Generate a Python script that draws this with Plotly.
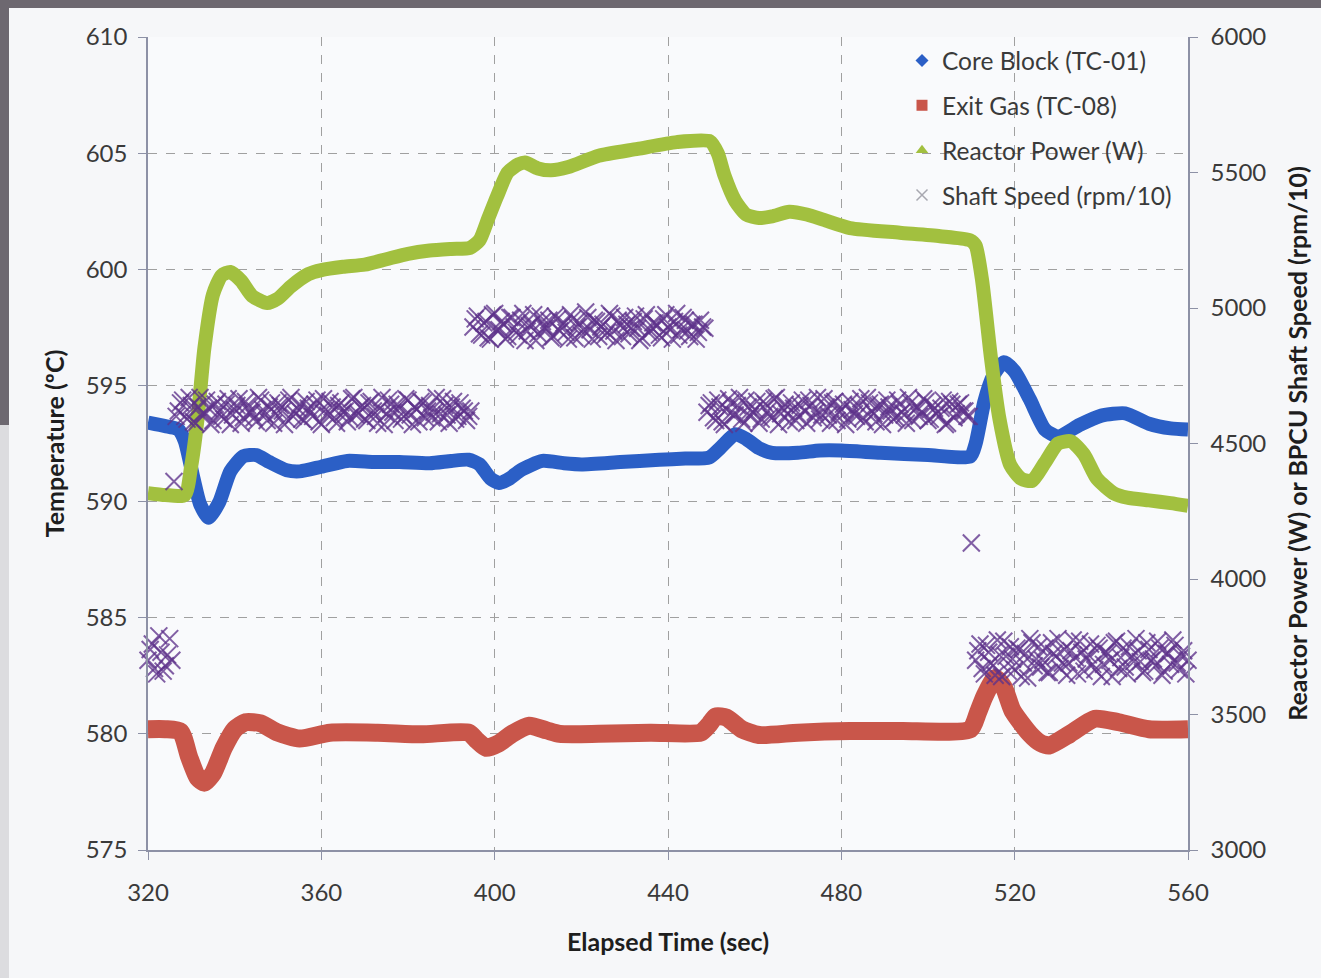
import numpy as np
import plotly.graph_objects as go

# ---- Core block temperature, TC-01 (degC) ----
core_t = [320, 324, 327, 328.5, 330.5, 332, 334, 336.5, 339, 342, 345, 348, 352, 355,
          360, 366, 372, 378, 385, 390, 394, 396.5, 399, 401, 403.5, 406, 411, 416,
          420, 429, 438, 444, 449.5, 452, 455.5, 458, 461, 464, 470, 475, 480, 489,
          500, 509.8, 511, 513, 515, 517.5, 520, 523.5, 527, 530, 535, 540, 545.5,
          551, 556, 560]
core_temp = [593.4, 593.25, 593.1, 592.6, 591.0, 589.9, 589.3, 590.0, 591.3, 591.95,
             592.0, 591.7, 591.35, 591.3, 591.5, 591.75, 591.7, 591.7, 591.65, 591.75,
             591.8, 591.6, 591.0, 590.8, 591.0, 591.35, 591.75, 591.65, 591.6, 591.7,
             591.8, 591.85, 591.9, 592.3, 592.9, 592.7, 592.3, 592.1, 592.1, 592.2,
             592.2, 592.1, 592.0, 591.95, 592.5, 594.3, 595.4, 596.0, 595.6, 594.4,
             593.1, 592.8, 593.3, 593.7, 593.8, 593.35, 593.15, 593.1]

# ---- Exit gas temperature, TC-08 (degC) ----
gas_t = [320, 324, 327.5, 329.5, 331.5, 333, 335, 337.5, 340, 342.5, 346, 350, 355,
         362, 373, 383, 394, 396, 398, 401, 404, 408, 412, 415, 424, 436, 447.5,
         449.5, 451, 453.5, 457, 461, 470, 482, 494, 509.8, 511.5, 513, 515.5,
         517.5, 519.5, 523.5, 526, 528, 532.8, 538.5, 544, 551, 560]
gas_temp = [580.2, 580.2, 580.1, 579.0, 578.1, 577.9, 578.3, 579.4, 580.2, 580.5,
            580.45, 580.05, 579.8, 580.05, 580.05, 579.98, 580.05, 579.7, 579.4,
            579.6, 580.0, 580.35, 580.15, 580.0, 580.0, 580.05, 580.05, 580.4,
            580.75, 580.7, 580.2, 579.95, 580.05, 580.12, 580.12, 580.2, 580.9,
            581.6, 582.4, 582.0, 581.0, 580.0, 579.6, 579.5, 580.0, 580.65, 580.5,
            580.2, 580.2]

# ---- Reactor power (W) ----
power_t = [320, 324, 328.5, 330, 331.5, 333, 335, 337, 339, 341.5, 344, 347.5, 350,
           353, 357, 360, 365, 370, 375, 380, 385, 390, 394.3, 396.5, 398.5, 400.5,
           403, 405.5, 407, 410, 413, 417, 424, 433, 442, 449.7, 451.5, 453, 455.5,
           458, 461, 464, 468, 472, 476, 482, 493.5, 502.8, 509.7, 511, 512.5,
           514.5, 516.5, 519, 521.5, 524, 527, 530, 533, 536, 539, 543, 546, 551,
           556, 560]
power_w = [4317, 4310, 4310, 4420, 4600, 4850, 5050, 5120, 5133, 5100, 5045, 5018,
           5035, 5080, 5125, 5140, 5152, 5160, 5180, 5200, 5212, 5218, 5222, 5250,
           5330, 5410, 5500, 5530, 5537, 5515, 5508, 5520, 5562, 5587, 5612, 5615,
           5570, 5490, 5395, 5345, 5332, 5338, 5355, 5345, 5325, 5295, 5278, 5265,
           5250, 5230, 5100, 4820, 4590, 4420, 4370, 4362, 4430, 4500, 4508, 4460,
           4370, 4315, 4300, 4290, 4280, 4270]

# ---- BPCU shaft speed (rpm/10), logged every 0.5 s ----
# each block: first reading time, readings on the whole second, readings on the half second
speed_start_a = 320
speed_a = [3700, 3760, 3650, 3730, 3680, 3780]
speed_a_half = [3740, 3670, 3790, 3660, 3720, 3700]

speed_start_b = 326
speed_b = [4360,
           4620, 4660, 4590, 4640, 4575, 4670, 4610, 4630, 4585, 4655, 4600, 4645, 4570,
           4625, 4665, 4595, 4640, 4615, 4580, 4660, 4605, 4635, 4575, 4650, 4620, 4590,
           4670, 4610, 4645, 4585, 4630, 4600, 4660, 4570, 4625, 4655, 4595, 4640, 4615,
           4580, 4665, 4605, 4635, 4590, 4650, 4620, 4575, 4670, 4610, 4645, 4585, 4630,
           4600, 4660, 4570, 4625, 4655, 4595, 4640, 4615, 4580, 4665, 4605, 4635, 4590,
           4650, 4620, 4600]
speed_b_half = [4600,
                4650, 4600, 4670, 4580, 4635, 4610, 4660, 4570, 4645, 4620, 4590, 4665,
                4605, 4640, 4575, 4655, 4615, 4595, 4670, 4625, 4585, 4650, 4610, 4640,
                4570, 4660, 4600, 4630, 4590, 4655, 4615, 4645, 4580, 4665, 4605, 4635,
                4575, 4650, 4620, 4595, 4670, 4610, 4640, 4585, 4655, 4600, 4630, 4570,
                4660, 4615, 4645, 4590, 4665, 4605, 4635, 4580, 4650, 4620, 4595, 4670,
                4610, 4640, 4575, 4655, 4600, 4630, 4585, 4620]

speed_start_c = 395
speed_c = [4930, 4970, 4900, 4950, 4885, 4980, 4920, 4940, 4895, 4965, 4910, 4955, 4880,
           4935, 4975, 4905, 4950, 4925, 4890, 4970, 4915, 4945, 4885, 4960, 4930, 4900,
           4985, 4920, 4955, 4895, 4940, 4910, 4970, 4880, 4935, 4965, 4905, 4950, 4925,
           4890, 4975, 4915, 4945, 4900, 4960, 4930, 4885, 4980, 4920, 4955, 4895, 4940,
           4910, 4930]
speed_c_half = [4960, 4905, 4945, 4890, 4975, 4920, 4950, 4885, 4965, 4930, 4900, 4980,
                4915, 4940, 4880, 4970, 4925, 4955, 4895, 4960, 4935, 4910, 4975, 4890,
                4945, 4920, 4965, 4885, 4950, 4930, 4900, 4980, 4915, 4955, 4895, 4940,
                4925, 4970, 4880, 4960, 4910, 4945, 4935, 4890, 4975, 4920, 4950, 4900,
                4965, 4915, 4940, 4885, 4955, 4925]

speed_start_d = 449
speed_d = [4615, 4650, 4585, 4635, 4570, 4665, 4605, 4640, 4590, 4660, 4600, 4625, 4575,
           4655, 4620, 4595, 4670, 4610, 4645, 4580, 4630, 4600, 4660, 4575, 4640, 4615,
           4590, 4665, 4605, 4650, 4585, 4625, 4570, 4655, 4610, 4640, 4595, 4670, 4620,
           4580, 4645, 4605, 4635, 4590, 4660, 4615, 4575, 4650, 4625, 4600, 4665, 4585,
           4640, 4610, 4630, 4570, 4655, 4595, 4645, 4620, 4600, 4133]
speed_d_half = [4640, 4595, 4660, 4580, 4625, 4650, 4605, 4670, 4575, 4635, 4615, 4655,
                4590, 4645, 4600, 4665, 4570, 4630, 4610, 4650, 4585, 4640, 4620, 4660,
                4595, 4670, 4605, 4635, 4575, 4655, 4615, 4645, 4590, 4625, 4600, 4665,
                4580, 4650, 4610, 4640, 4570, 4660, 4620, 4595, 4645, 4605, 4670, 4585,
                4635, 4615, 4655, 4590, 4630, 4600, 4660, 4575, 4645, 4610, 4650, 4620,
                4600]

speed_start_e = 511
speed_e = [3700, 3760, 3650, 3730, 3680, 3775, 3640, 3715, 3750, 3665, 3740, 3690, 3635,
           3765, 3705, 3675, 3745, 3655, 3725, 3780, 3690, 3645, 3735, 3710, 3770, 3660,
           3720, 3685, 3755, 3640, 3730, 3700, 3765, 3670, 3745, 3650, 3715, 3780, 3695,
           3660, 3740, 3705, 3770, 3645, 3725, 3685, 3755, 3665, 3735, 3700]
speed_e_half = [3735, 3670, 3755, 3690, 3645, 3720, 3770, 3660, 3705, 3745, 3640, 3725,
                3780, 3680, 3750, 3700, 3655, 3765, 3715, 3670, 3740, 3690, 3775, 3650,
                3730, 3705, 3760, 3665, 3745, 3685, 3725, 3640, 3770, 3710, 3675, 3750,
                3695, 3735, 3655, 3765, 3700, 3680, 3745, 3660, 3725, 3775, 3690, 3715,
                3650]

speed_t, speed_v = [], []
for start, whole, half in [(speed_start_a, speed_a, speed_a_half),
                           (speed_start_b, speed_b, speed_b_half),
                           (speed_start_c, speed_c, speed_c_half),
                           (speed_start_d, speed_d, speed_d_half),
                           (speed_start_e, speed_e, speed_e_half)]:
    speed_t.extend((start + np.arange(len(whole))).tolist())
    speed_v.extend(whole)
    speed_t.extend((start + 0.5 + np.arange(len(half))).tolist())
    speed_v.extend(half)

x_ticks = [320, 360, 400, 440, 480, 520, 560]

# ---- styling ----
W, H = 1321, 978
L, R, T, B = 148, 133, 37, 128
FONT = "Lato"
TXT = "#3a3a3a"
TITLE = "#1e1e1e"
AXC = "#8d91a6"
GRID = "#a0a0a0"
BLUE, RED, GREEN = "#2b5fc6", "#c9564a", "#a2c03f"
PURPLE = "rgba(94,50,138,0.78)"


def px_x(px):
    return (px - L) / (W - L - R)


def px_y(py):
    return 1 - (py - T) / (H - T - B)


fig = go.Figure()

fig.add_trace(go.Scatter(x=core_t, y=core_temp, mode="lines", yaxis="y",
                         line=dict(color=BLUE, width=14, shape="spline", smoothing=0.6),
                         showlegend=False, hoverinfo="skip"))
fig.add_trace(go.Scatter(x=gas_t, y=gas_temp, mode="lines", yaxis="y",
                         line=dict(color=RED, width=18, shape="spline", smoothing=0.6),
                         showlegend=False, hoverinfo="skip"))
fig.add_trace(go.Scatter(x=power_t, y=power_w, mode="lines", yaxis="y2",
                         line=dict(color=GREEN, width=14, shape="spline", smoothing=0.6),
                         showlegend=False, hoverinfo="skip"))
fig.add_trace(go.Scatter(x=speed_t, y=speed_v, mode="markers", yaxis="y2",
                         cliponaxis=False,
                         marker=dict(symbol="x-thin", size=17,
                                     line=dict(color=PURPLE, width=2.0)),
                         showlegend=False, hoverinfo="skip"))

# legend keys
legend_items = [
    ("Core Block (TC-01)", "diamond", BLUE, 10),
    ("Exit Gas (TC-08)", "square", RED, 11),
    ("Reactor Power (W)", "triangle-up", GREEN, 11),
    ("Shaft Speed (rpm/10)", "x-thin", "#a8a8b0", 11),
]
for i, (name, sym, col, sz) in enumerate(legend_items):
    mk = dict(symbol=sym, size=sz, color=col)
    if sym == "x-thin":
        mk["line"] = dict(color=col, width=1.5)
    fig.add_trace(go.Scatter(x=[None], y=[None], mode="markers", name=name,
                             marker=mk, legendgroup=f"g{i}",
                             yaxis="y2" if i >= 2 else "y"))

# page frame
shapes = [
    dict(type="rect", xref="paper", yref="paper", x0=px_x(0), x1=px_x(W),
         y0=px_y(0), y1=px_y(8), fillcolor="#6d6870", line_width=0, layer="below"),
    dict(type="rect", xref="paper", yref="paper", x0=px_x(0), x1=px_x(9),
         y0=px_y(0), y1=px_y(425), fillcolor="#6d6870", line_width=0, layer="below"),
    dict(type="rect", xref="paper", yref="paper", x0=px_x(0), x1=px_x(9),
         y0=px_y(425), y1=px_y(H), fillcolor="#dcdcdf", line_width=0, layer="below"),
]

fig.update_layout(
    width=W, height=H,
    margin=dict(l=L, r=R, t=T, b=B),
    paper_bgcolor="#f6f7f9",
    plot_bgcolor="#f9fafc",
    font=dict(family=FONT, size=24, color=TXT),
    shapes=shapes,
    showlegend=True,
    legend=dict(x=px_x(902), y=px_y(38), xanchor="left", yanchor="top",
                bgcolor="rgba(0,0,0,0)", font=dict(size=24.5, color=TXT),
                tracegroupgap=10, itemwidth=30),
    xaxis=dict(range=[320, 560], tickvals=x_ticks, ticks="outside", ticklen=8,
               tickcolor=AXC, showline=True, linecolor=AXC, linewidth=1.5,
               showgrid=True, gridcolor=GRID, griddash="dash", gridwidth=1,
               zeroline=False, tickfont=dict(size=24, color=TXT),
               ticklabelstandoff=12,
               title=dict(text="Elapsed Time (sec)", standoff=29,
                          font=dict(size=25, color=TITLE, weight="bold"))),
    yaxis=dict(range=[575, 610], dtick=5, ticks="outside", ticklen=8, tickcolor=AXC,
               showline=True, linecolor=AXC, linewidth=1.5, showgrid=True,
               gridcolor=GRID, griddash="dash", gridwidth=1, zeroline=False,
               tickfont=dict(size=24, color=TXT), ticklabelstandoff=6,
               title=dict(text="Temperature (ºC)", standoff=14,
                          font=dict(size=25, color=TITLE, weight="bold"))),
    yaxis2=dict(range=[3000, 6000], dtick=500, overlaying="y", side="right",
                ticks="outside", ticklen=8, tickcolor=AXC, showline=True,
                linecolor=AXC, linewidth=1.5, showgrid=False, zeroline=False,
                tickfont=dict(size=24, color=TXT), ticklabelstandoff=8,
                title=dict(text="Reactor Power (W) or BPCU Shaft Speed (rpm/10)",
                           standoff=24,
                           font=dict(size=25, color=TITLE, weight="bold"))),
)

fig.write_html("out.html")
